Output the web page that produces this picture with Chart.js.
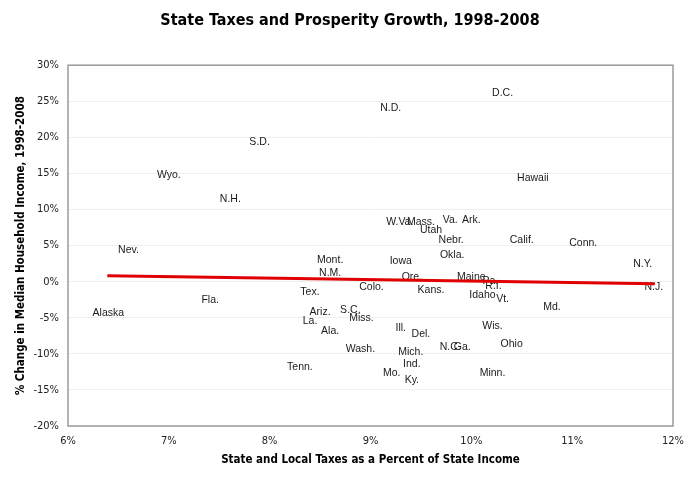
<!DOCTYPE html>
<html>
<head>
<meta charset="utf-8">
<script src="https://cdn.jsdelivr.net/npm/chart.js@4/dist/chart.umd.min.js"></script>
<style>
  html, body { margin: 0; padding: 0; background: #fff; }
  #wrap { width: 700px; height: 479px; }
</style>
</head>
<body>
<div id="wrap"><canvas id="cnv_tax_chart" width="700" height="479"></canvas></div>
<script>
// state labels, tax share of income (%), change in median household income (%)
const states = ['D.C.', 'N.D.', 'S.D.', 'Wyo.', 'N.H.', 'Hawaii', 'W.Va.', 'Mass.', 'Utah', 'Va.', 'Ark.',
    'Nebr.', 'Calif.', 'Conn.', 'Okla.', 'Iowa', 'N.Y.', 'N.J.', 'Nev.', 'Mont.', 'N.M.', 'Ore.', 'Maine',
    'Pa.', 'R.I.', 'Colo.', 'Kans.', 'Tex.', 'Idaho', 'Vt.', 'Fla.', 'Md.', 'S.C.', 'Ariz.', 'Alaska',
    'Miss.', 'La.', 'Wis.', 'Ill.', 'Ala.', 'Del.', 'Ohio', 'N.C.', 'Ga.', 'Wash.', 'Mich.', 'Ind.',
    'Tenn.', 'Mo.', 'Minn.', 'Ky.']
const taxRates = [10.31, 9.20, 7.90, 7.00, 7.61, 10.61, 9.29, 9.50, 9.60, 9.79, 10.00,
    9.80, 10.50, 11.11, 9.81, 9.30, 11.70, 11.81, 6.60, 8.60, 8.60, 9.41, 10.00,
    10.19, 10.22, 9.01, 9.60, 8.40, 10.11, 10.31, 7.41, 10.80, 8.80, 8.50, 6.40,
    8.91, 8.40, 10.21, 9.30, 8.60, 9.50, 10.40, 9.79, 9.91, 8.90, 9.40, 9.41,
    8.30, 9.21, 10.21, 9.41]
const incomeChanges = [26.2, 24.1, 19.4, 14.8, 11.4, 14.3, 8.2, 8.2, 7.2, 8.6, 8.6,
    5.8, 5.7, 5.4, 3.7, 2.8, 2.4, -0.7, 4.4, 3.0, 1.2, 0.6, 0.6,
    0.1, -0.6, -0.8, -1.1, -1.5, -1.9, -2.4, -2.6, -3.5, -3.9, -4.2, -4.3,
    -5.1, -5.5, -6.1, -6.4, -6.9, -7.3, -8.6, -9.0, -9.1, -9.4, -9.8, -11.4,
    -11.8, -12.7, -12.7, -13.7]

// linear trend end points
const trendX = [6.39, 11.82]
const trendY = [0.83, -0.28]

const xTicks = [6, 7, 8, 9, 10, 11, 12]
const yTicks = [-20, -15, -10, -5, 0, 5, 10, 15, 20, 25, 30]

const fontFamily = "'DejaVu Sans Condensed', 'DejaVu Sans', sans-serif"
const tickFont = { family: fontFamily, size: 11 }
const titleFont = { family: fontFamily, size: 11.5, weight: 'bold' }

// draw each state's name at its point (markers are hidden)
const stateLabels = {
    id: 'stateLabels',
    afterDatasetDraw(chart, args) {
        if (args.index !== 1) return
        const ctx = chart.ctx
        ctx.save()
        ctx.font = "10.5px 'Liberation Sans', Arial, sans-serif"
        ctx.fillStyle = '#1a1a1a'
        ctx.textAlign = 'center'
        ctx.textBaseline = 'middle'
        args.meta.data.forEach((pt, i) => {
            ctx.fillText(states[i], pt.x, pt.y)
        })
        ctx.restore()
    }
}

// gray box around the plot area
const plotFrame = {
    id: 'plotFrame',
    afterDraw(chart) {
        const { ctx, chartArea: a } = chart
        ctx.save()
        ctx.strokeStyle = '#9a9a9a'
        ctx.lineWidth = 1.5
        ctx.strokeRect(a.left, a.top, a.right - a.left, a.bottom - a.top)
        ctx.restore()
    }
}

const ctx = document.getElementById('cnv_tax_chart').getContext('2d')
const myChart = new Chart(ctx, {
    type: 'scatter',
    plugins: [stateLabels, plotFrame],
    data: {
        datasets: [{
            type: 'line',
            label: 'Trend',
            data: trendX.map((x, i) => ({ x: x, y: trendY[i] })),
            borderColor: '#e00000',
            borderWidth: 3,
            pointRadius: 0,
            fill: false,
            order: 0
        }, {
            label: 'States',
            data: taxRates.map((x, i) => ({ x: x, y: incomeChanges[i] })),
            pointRadius: 0,
            pointHoverRadius: 0,
            order: 1
        }]
    },
    options: {
        responsive: false,
        animation: false,
        layout: { padding: 0 },
        plugins: {
            legend: { display: false },
            tooltip: { enabled: false },
            title: {
                display: true,
                text: 'State Taxes and Prosperity Growth, 1998-2008',
                color: '#000',
                font: { family: fontFamily, size: 16, weight: 'bold' },
                padding: { top: 11, bottom: 35 }
            }
        },
        scales: {
            x: {
                type: 'linear',
                min: 6,
                max: 12,
                afterBuildTicks: axis => { axis.ticks = xTicks.map(v => ({ value: v })) },
                afterFit: axis => { axis.height = 53 },
                grid: { display: false, drawTicks: false },
                border: { display: false },
                ticks: {
                    font: tickFont,
                    color: '#222',
                    padding: 9,
                    callback: v => v + '%'
                },
                title: {
                    display: true,
                    text: 'State and Local Taxes as a Percent of State Income',
                    font: titleFont,
                    color: '#000',
                    padding: { top: 0, bottom: 12 }
                }
            },
            y: {
                type: 'linear',
                min: -20,
                max: 30,
                afterBuildTicks: axis => { axis.ticks = yTicks.map(v => ({ value: v })) },
                afterFit: axis => { axis.width = 68 },
                grid: { color: '#eeeeee', lineWidth: 1, drawTicks: false },
                border: { display: false },
                ticks: {
                    font: tickFont,
                    color: '#222',
                    padding: 9,
                    callback: v => v + '%'
                },
                title: {
                    display: true,
                    text: '% Change in Median Household Income, 1998-2008',
                    font: titleFont,
                    color: '#000',
                    padding: { top: 14, bottom: 0 }
                }
            },
            // empty right-hand strip so the plot ends where the original does
            yRight: {
                type: 'linear',
                position: 'right',
                min: -20,
                max: 30,
                afterFit: axis => { axis.width = 27 },
                grid: { display: false, drawTicks: false },
                border: { display: false },
                ticks: { display: false }
            }
        }
    }
})
</script>
</body>
</html>
